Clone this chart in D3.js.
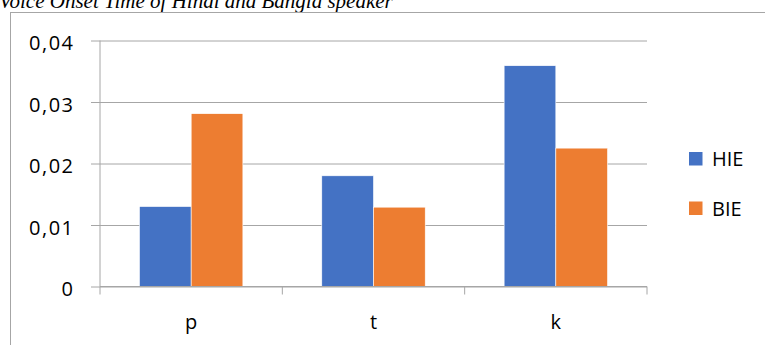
<!DOCTYPE html>
<html>
<head>
<meta charset="utf-8">
<script src="https://cdn.jsdelivr.net/npm/d3@7"></script>
<style>
  html, body { margin: 0; padding: 0; background: #fff; overflow: hidden; }
  svg { display: block; }
</style>
</head>
<body>
<svg id="chart" width="765" height="345"></svg>
<script>
const titleText = "Voice Onset Time of Hindi and Bangla speaker";
const categories = ["p", "t", "k"];
const seriesNames = ["HIE", "BIE"];
const seriesColors = ["#4472C4", "#ED7D31"];
const hieValues = [0.0130, 0.0180, 0.0359];
const bieValues = [0.0281, 0.0129, 0.0225];
const yTickValues = [0, 0.01, 0.02, 0.03, 0.04];
const yTickLabels = ["0", "0,01", "0,02", "0,03", "0,04"];

const seriesValues = [hieValues, bieValues];
const svg = d3.select("#chart");
const font = "'Open Sans', sans-serif";
const gridColor = "#a6a6a6";

// Title (partially cut at top, as in the reference)
svg.append("text")
  .attr("x", -1).attr("y", 7.5)
  .attr("font-family", "'Liberation Serif', 'Times New Roman', serif")
  .attr("font-style", "italic")
  .attr("font-size", 21)
  .attr("fill", "#000")
  .text(titleText);

// Chart border
svg.append("rect")
  .attr("x", 10.5).attr("y", 12.5)
  .attr("width", 900).attr("height", 500)
  .attr("fill", "none").attr("stroke", gridColor).attr("stroke-width", 1);

const x0 = d3.scaleBand().domain(categories).range([100, 647]).paddingInner(0).paddingOuter(0);
const x1 = d3.scaleBand().domain(seriesNames).range([0, x0.bandwidth()]).paddingInner(0).paddingOuter(0.763);
const y = d3.scaleLinear().domain([0, 0.04]).range([286.5, 40.5]);

// Gridlines + y ticks
const yAxis = d3.axisLeft(y)
  .tickValues(yTickValues)
  .tickSize(-(647 - 91))
  .tickFormat((d, i) => yTickLabels[i])
  .tickPadding(16.5);
const gy = svg.append("g").attr("transform", "translate(91,0)").call(yAxis);
gy.select(".domain").remove();
gy.selectAll(".tick line").attr("stroke", gridColor).attr("stroke-width", 1);
gy.selectAll(".tick text")
  .attr("font-family", font).attr("font-size", 20).attr("fill", "#000")
  .attr("letter-spacing", "1.5px")
  .attr("dy", "0.45em");

// Vertical axis line
svg.append("line")
  .attr("x1", 100).attr("x2", 100)
  .attr("y1", y(0.04)).attr("y2", y(0))
  .attr("stroke", gridColor).attr("stroke-width", 1);

// Bars
const groups = svg.append("g").selectAll("g")
  .data(categories)
  .join("g")
  .attr("transform", d => `translate(${x0(d)},0)`);

groups.selectAll("rect")
  .data((c, ci) => seriesNames.map((s, si) => ({ s, si, v: seriesValues[si][ci] })))
  .join("rect")
  .attr("x", d => x1(d.s))
  .attr("y", d => y(d.v))
  .attr("width", x1.bandwidth())
  .attr("height", d => y(0) - y(d.v))
  .attr("fill", d => seriesColors[d.si])
  .attr("stroke", "#ffffff")
  .attr("stroke-width", 0.6);

// X axis
const xAxis = d3.axisBottom(x0).tickSize(0).tickPadding(28);
const gx = svg.append("g").attr("transform", `translate(0,${y(0)})`).call(xAxis);
gx.select(".domain").attr("stroke", gridColor).attr("d", `M100,0H647`);
gx.selectAll(".tick text").attr("font-family", font).attr("font-size", 20).attr("fill", "#000").attr("dy", "0.71em");
// category boundary tick marks
const boundaries = categories.map(c => x0(c)).concat([x0.range()[1]]);
svg.append("g").selectAll("line")
  .data(boundaries)
  .join("line")
  .attr("x1", d => d).attr("x2", d => d)
  .attr("y1", y(0)).attr("y2", y(0) + 8)
  .attr("stroke", gridColor).attr("stroke-width", 1);

// Legend
const legend = svg.append("g").selectAll("g")
  .data(seriesNames)
  .join("g")
  .attr("transform", (d, i) => `translate(689,${152 + i * 49.5})`);
legend.append("rect")
  .attr("width", 13.5).attr("height", 13.5)
  .attr("fill", (d, i) => seriesColors[i]);
legend.append("text")
  .attr("x", 23).attr("y", 7)
  .attr("dy", "0.36em")
  .attr("font-family", font).attr("font-size", 20).attr("fill", "#000")
  .text(d => d);
</script>
</body>
</html>
